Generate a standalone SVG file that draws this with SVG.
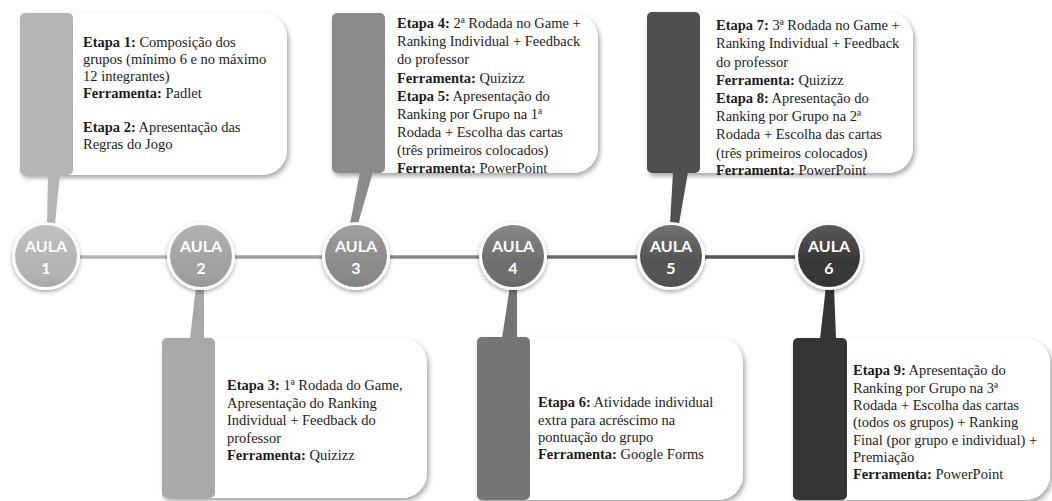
<svg xmlns="http://www.w3.org/2000/svg" width="1052" height="501" viewBox="0 0 1052 501">
<defs>
<filter id="sh" x="-10%" y="-10%" width="125%" height="130%">
<feDropShadow dx="2" dy="3" stdDeviation="2.5" flood-color="#000" flood-opacity="0.35"/>
</filter>
<filter id="csh" x="-20%" y="-20%" width="140%" height="140%">
<feDropShadow dx="0" dy="2" stdDeviation="2" flood-color="#000" flood-opacity="0.35"/>
</filter>
<linearGradient id="gl" x1="0" y1="0" x2="0" y2="1">
<stop offset="0" stop-color="#fff" stop-opacity="0.18"/>
<stop offset="0.6" stop-color="#fff" stop-opacity="0"/>
<stop offset="1" stop-color="#000" stop-opacity="0.08"/>
</linearGradient>
<style>
.card{fill:#fff}
.t{font-family:"Liberation Serif","Times New Roman",serif;font-size:14.5px;fill:#1c1c1c}
.b{font-weight:bold}
.au{font-family:Lato,"Open Sans",sans-serif;font-weight:bold;font-size:16px;fill:#fff;text-anchor:middle}
.ring{fill:#fff}
.gl{fill:url(#gl)}
.ln{stroke-width:3.5;fill:none}
</style>
</defs>
<rect width="1052" height="501" fill="#fff"/>

<g id="connectors">
<line class="ln" x1="80" y1="257" x2="168" y2="257" stroke="#b3b3b3"/>
<line class="ln" x1="235" y1="257" x2="323" y2="257" stroke="#a0a0a0"/>
<line class="ln" x1="390" y1="257" x2="480" y2="257" stroke="#8a8a8a"/>
<line class="ln" x1="547" y1="257" x2="638" y2="257" stroke="#6c6c6c"/>
<line class="ln" x1="705" y1="257" x2="796" y2="257" stroke="#555"/>
</g>

<g id="aula1">
<g filter="url(#sh)">
<rect class="card" x="20" y="13" width="267" height="162" rx="25"/>
<rect x="20" y="13" width="53" height="162" rx="5" fill="#b5b5b5"/>
</g>
<polygon points="48,174 60,174 55,224 47,224" fill="#b5b5b5"/>
<text class="t" x="83" y="47"><tspan class="b">Etapa 1:</tspan> Composição dos</text>
<text class="t" x="83" y="64">grupos (mínimo 6 e no máximo</text>
<text class="t" x="83" y="81">12 integrantes)</text>
<text class="t" x="83" y="98"><tspan class="b">Ferramenta:</tspan> Padlet</text>
<text class="t" x="83" y="132"><tspan class="b">Etapa 2:</tspan> Apresentação das</text>
<text class="t" x="83" y="149">Regras do Jogo</text>
<circle class="ring" cx="46" cy="256" r="34" filter="url(#csh)"/>
<circle cx="46" cy="256" r="31" fill="#b4b4b4"/>
<circle class="gl" cx="46" cy="256" r="31"/>
<text class="au" x="46" y="252">AULA</text>
<text class="au" x="46" y="274">1</text>
</g>

<g id="aula2">
<g filter="url(#sh)">
<rect class="card" x="162" y="338" width="265" height="160" rx="25"/>
<rect x="162" y="338" width="53" height="160" rx="5" fill="#a8a8a8"/>
</g>
<polygon points="196,286 204,286 204,339 190,339" fill="#a8a8a8"/>
<text class="t" x="227" y="390"><tspan class="b">Etapa 3:</tspan> 1ª Rodada do Game,</text>
<text class="t" x="227" y="407.5">Apresentação do Ranking</text>
<text class="t" x="227" y="425">Individual + Feedback do</text>
<text class="t" x="227" y="442.5">professor</text>
<text class="t" x="227" y="460"><tspan class="b">Ferramenta:</tspan> Quizizz</text>
<circle class="ring" cx="201" cy="256" r="34" filter="url(#csh)"/>
<circle cx="201" cy="256" r="31" fill="#a2a2a2"/>
<circle class="gl" cx="201" cy="256" r="31"/>
<text class="au" x="201" y="252">AULA</text>
<text class="au" x="201" y="274">2</text>
</g>

<g id="aula3">
<g filter="url(#sh)">
<rect class="card" x="332" y="13" width="266" height="160" rx="25"/>
<rect x="332" y="13" width="53" height="160" rx="5" fill="#8c8c8c"/>
</g>
<polygon points="360,172 373,172 358,224 350,224" fill="#8c8c8c"/>
<text class="t" x="397" y="28"><tspan class="b">Etapa 4:</tspan> 2ª Rodada no Game +</text>
<text class="t" x="397" y="46">Ranking Individual + Feedback</text>
<text class="t" x="397" y="64">do professor</text>
<text class="t" x="397" y="82.5"><tspan class="b">Ferramenta:</tspan> Quizizz</text>
<text class="t" x="397" y="100.5"><tspan class="b">Etapa 5:</tspan> Apresentação do</text>
<text class="t" x="397" y="118.5">Ranking por Grupo na 1ª</text>
<text class="t" x="397" y="137">Rodada + Escolha das cartas</text>
<text class="t" x="397" y="155">(três primeiros colocados)</text>
<text class="t" x="397" y="173"><tspan class="b">Ferramenta:</tspan> PowerPoint</text>
<circle class="ring" cx="356" cy="256" r="34" filter="url(#csh)"/>
<circle cx="356" cy="256" r="31" fill="#8b8b8b"/>
<circle class="gl" cx="356" cy="256" r="31"/>
<text class="au" x="356" y="252">AULA</text>
<text class="au" x="356" y="274">3</text>
</g>

<g id="aula4">
<g filter="url(#sh)">
<rect class="card" x="477" y="337" width="266" height="163" rx="25"/>
<rect x="477" y="337" width="53" height="163" rx="5" fill="#747474"/>
</g>
<polygon points="510,286 517,286 517,338 502,338" fill="#747474"/>
<text class="t" x="538" y="407"><tspan class="b">Etapa 6:</tspan> Atividade individual</text>
<text class="t" x="538" y="424.5">extra para acréscimo na</text>
<text class="t" x="538" y="442">pontuação do grupo</text>
<text class="t" x="538" y="459"><tspan class="b">Ferramenta:</tspan> Google Forms</text>
<circle class="ring" cx="513" cy="256" r="34" filter="url(#csh)"/>
<circle cx="513" cy="256" r="31" fill="#6e6e6e"/>
<circle class="gl" cx="513" cy="256" r="31"/>
<text class="au" x="513" y="252">AULA</text>
<text class="au" x="513" y="274">4</text>
</g>

<g id="aula5">
<g filter="url(#sh)">
<rect class="card" x="647" y="12" width="266" height="161" rx="25"/>
<rect x="647" y="12" width="53" height="161" rx="5" fill="#505050"/>
</g>
<polygon points="673,172 688,172 679,224 670,224" fill="#505050"/>
<text class="t" x="716" y="30"><tspan class="b">Etapa 7:</tspan> 3ª Rodada no Game +</text>
<text class="t" x="716" y="48">Ranking Individual + Feedback</text>
<text class="t" x="716" y="66.5">do professor</text>
<text class="t" x="716" y="84.5"><tspan class="b">Ferramenta:</tspan> Quizizz</text>
<text class="t" x="716" y="103"><tspan class="b">Etapa 8:</tspan> Apresentação do</text>
<text class="t" x="716" y="121">Ranking por Grupo na 2ª</text>
<text class="t" x="716" y="139">Rodada + Escolha das cartas</text>
<text class="t" x="716" y="157.5">(três primeiros colocados)</text>
<text class="t" x="716" y="175"><tspan class="b">Ferramenta:</tspan> PowerPoint</text>
<circle class="ring" cx="671" cy="256" r="34" filter="url(#csh)"/>
<circle cx="671" cy="256" r="31" fill="#545454"/>
<circle class="gl" cx="671" cy="256" r="31"/>
<text class="au" x="671" y="252">AULA</text>
<text class="au" x="671" y="274">5</text>
</g>

<g id="aula6">
<g filter="url(#sh)">
<rect class="card" x="793" y="338" width="257" height="162" rx="25"/>
<rect x="793" y="338" width="54" height="162" rx="5" fill="#353535"/>
</g>
<polygon points="826,286 834,286 836,339 820,339" fill="#353535"/>
<text class="t" x="853" y="375"><tspan class="b">Etapa 9:</tspan> Apresentação do</text>
<text class="t" x="853" y="392.5">Ranking por Grupo na 3ª</text>
<text class="t" x="853" y="410">Rodada + Escolha das cartas</text>
<text class="t" x="853" y="427">(todos os grupos) + Ranking</text>
<text class="t" x="853" y="444.5">Final (por grupo e individual) +</text>
<text class="t" x="853" y="461.5">Premiação</text>
<text class="t" x="853" y="478.5"><tspan class="b">Ferramenta:</tspan> PowerPoint</text>
<circle class="ring" cx="829" cy="256" r="34" filter="url(#csh)"/>
<circle cx="829" cy="256" r="31" fill="#363636"/>
<circle class="gl" cx="829" cy="256" r="31"/>
<text class="au" x="829" y="252">AULA</text>
<text class="au" x="829" y="274">6</text>
</g>
</svg>
